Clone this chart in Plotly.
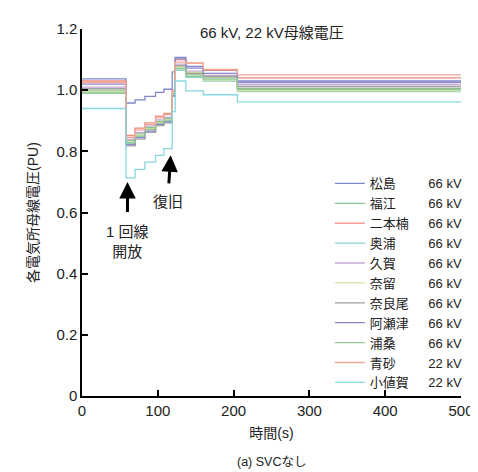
import plotly.graph_objects as go

# time axis (s)
time_s = [0, 58, 70, 83, 97, 108, 119, 123, 137, 160, 205, 500]

# bus voltages (PU)
matsushima = [1.037, 0.958, 0.968, 0.980, 0.993, 1.003, 1.060, 1.107, 1.078, 1.065, 1.030, 1.030]
fukue      = [1.000, 0.835, 0.857, 0.878, 0.898, 0.907, 0.990, 1.076, 1.050, 1.040, 1.006, 1.006]
nihongusu  = [1.030, 0.852, 0.876, 0.893, 0.915, 0.924, 1.000, 1.100, 1.088, 1.066, 1.040, 1.040]
okuura     = [0.992, 0.825, 0.848, 0.870, 0.890, 0.899, 0.985, 1.065, 1.042, 1.030, 0.995, 0.995]
kuga       = [1.010, 0.840, 0.862, 0.883, 0.903, 0.911, 0.995, 1.085, 1.062, 1.048, 1.018, 1.018]
naru       = [0.995, 0.830, 0.852, 0.874, 0.894, 0.903, 0.988, 1.078, 1.058, 1.033, 0.998, 0.998]
naraou     = [1.005, 0.818, 0.840, 0.862, 0.884, 0.893, 0.980, 1.080, 1.055, 1.045, 1.012, 1.012]
azetsu     = [1.020, 0.822, 0.845, 0.866, 0.888, 0.896, 0.982, 1.102, 1.072, 1.055, 1.025, 1.025]
urakuwa    = [0.990, 0.828, 0.850, 0.872, 0.892, 0.901, 0.986, 1.070, 1.045, 1.036, 1.002, 1.002]
aosa       = [1.025, 0.846, 0.870, 0.888, 0.910, 0.920, 0.998, 1.092, 1.088, 1.068, 1.050, 1.050]
ojika      = [0.940, 0.713, 0.741, 0.765, 0.787, 0.809, 0.930, 1.030, 0.998, 0.985, 0.962, 0.962]

station_names = ["松島", "福江", "二本楠", "奥浦", "久賀", "奈留", "奈良尾", "阿瀬津", "浦桑", "青砂", "小値賀"]
station_kv = ["66 kV"] * 9 + ["22 kV", "22 kV"]
series = [matsushima, fukue, nihongusu, okuura, kuga, naru, naraou, azetsu, urakuwa, aosa, ojika]
colors = ["#7f86cc", "#8cc08c", "#ef8a7a", "#86d4d0", "#c9a9d6", "#d6e09c",
          "#a0a0a0", "#8a88c8", "#98c898", "#f4a898", "#88d6e0"]

y_tickvals = [0, 0.2, 0.4, 0.6, 0.8, 1.0, 1.2]
y_ticktext = ["0", "0.2", "0.4", "0.6", "0.8", "1.0", "1.2"]
x_tickvals = [0, 100, 200, 300, 400, 500]

FONT = "Liberation Sans, Noto Sans CJK JP, sans-serif"

fig = go.Figure()
for name, kv, vals, col in zip(station_names, station_kv, series, colors):
    label = name.ljust(3, "\u3000") + "\u3000\u2002" + kv
    fig.add_trace(go.Scatter(x=time_s, y=vals, mode="lines", line_shape="hv",
                             line=dict(color=col, width=1.3), name=label))

fig.update_layout(
    width=478, height=472,
    margin=dict(l=74, r=25, t=19, b=84),
    paper_bgcolor="white", plot_bgcolor="white",
    font=dict(family=FONT, size=15, color="#222"),
    showlegend=True,
    legend=dict(x=0.654, y=0.62, xanchor="left", yanchor="top",
                bgcolor="rgba(0,0,0,0)", font=dict(size=13, family=FONT, color="#222")),
)
fig.update_xaxes(range=[0, 500], tickvals=x_tickvals, showline=True, linecolor="black",
                 linewidth=1.5, ticks="inside", ticklen=6, tickwidth=1.5, tickcolor="black",
                 showgrid=False, zeroline=False, title=dict(text="時間(s)", standoff=10,
                 font=dict(size=14)))
fig.update_yaxes(range=[0, 1.2], tickvals=y_tickvals, ticktext=y_ticktext, showline=True,
                 linecolor="black", linewidth=1.5, ticks="inside", ticklen=6, tickwidth=1.5,
                 tickcolor="black", showgrid=False, zeroline=False,
                 title=dict(text="各電気所母線電圧(PU)", standoff=14, font=dict(size=14)))

fig.add_annotation(text="66 kV, 22 kV母線電圧", xref="paper", yref="paper", x=0.5, y=0.99,
                   showarrow=False, yanchor="middle", font=dict(size=15))
fig.add_annotation(text="(a) SVCなし", xref="paper", yref="paper", x=0.5, y=-0.18,
                   showarrow=False, yanchor="middle", font=dict(size=12.5))
fig.add_annotation(text="1 回線<br>開放", x=60, y=0.70, xref="x", yref="y", showarrow=True,
                   ax=0, ay=60, arrowhead=2, arrowsize=1.1, arrowwidth=3, arrowcolor="black",
                   startstandoff=10, font=dict(size=15))
fig.add_annotation(text="復旧", x=117, y=0.787, xref="x", yref="y", showarrow=True,
                   ax=-3, ay=46, arrowhead=2, arrowsize=1.1, arrowwidth=3, arrowcolor="black",
                   startstandoff=8, font=dict(size=15))

fig.write_html("out.html")
